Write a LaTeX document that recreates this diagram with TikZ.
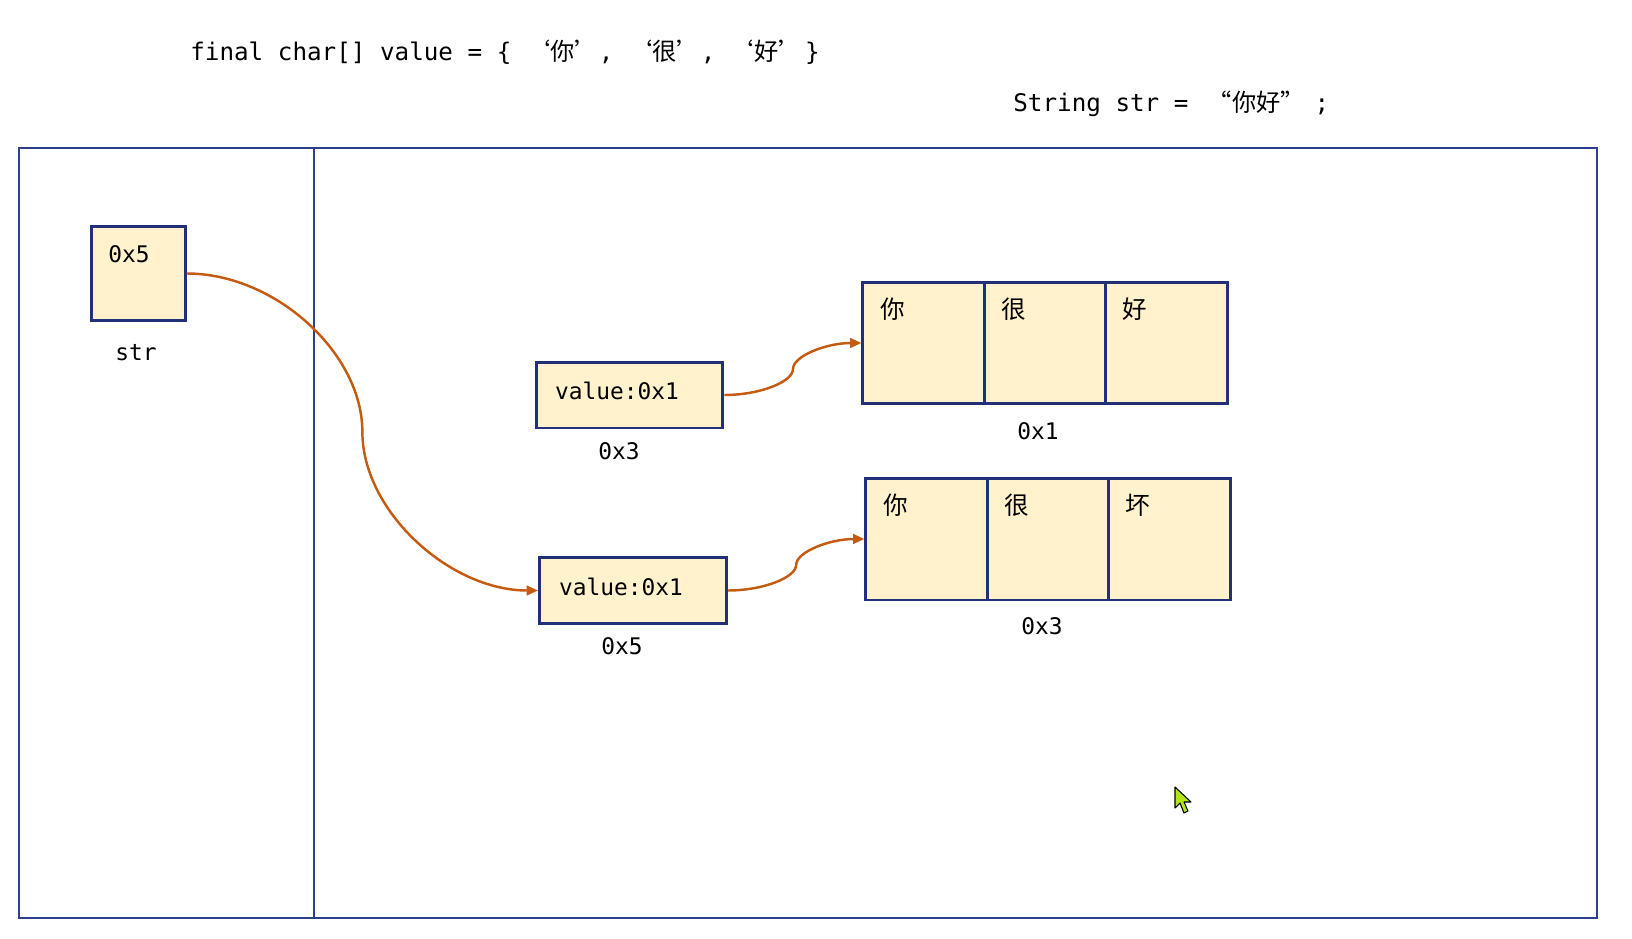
\documentclass[tikz,border=0pt]{standalone}
\usepackage{fontspec}
\setmonofont{DejaVu Sans Mono}
\newfontfamily\cjk{Noto Sans CJK SC}
\usetikzlibrary{arrows.meta,calc}
\definecolor{boxfill}{HTML}{FFF2CC}
\definecolor{boxline}{HTML}{22307A}
\definecolor{frameline}{HTML}{2B3F8A}
\definecolor{ptrline}{HTML}{C55A11}
\tikzset{
  cell/.style={draw=boxline, line width=1.7pt, fill=boxfill, inner sep=0pt},
  txt/.style={font=\ttfamily\fontsize{13}{15}\selectfont, inner sep=0pt},
  code/.style={font=\ttfamily\fontsize{13.8}{16}\selectfont, inner sep=0pt, anchor=west},
  hz/.style={font=\cjk\fontsize{14}{16}\selectfont, inner sep=0pt},
  ptr/.style={draw=ptrline, line width=1.4pt, -{Triangle[length=6.5pt,width=5.5pt]}}
}
\begin{document}
\begin{tikzpicture}[x=0.02cm, y=-0.02cm]
\useasboundingbox (0,0) rectangle (1632,939);
% Quelltext oben
\node[code] (code1) at (190,52) {final char[] value = \{ {\cjk ‘你’}, {\cjk ‘很’}, {\cjk ‘好’}\hspace{0.1em}\}};
\node[code] (code2) at (1013,104) {String str = \hspace{0.2em}{\cjk “你好”}\hspace{0.4em};};
% Stack und Heap
\draw[frameline, line width=1.2pt] (19,148) rectangle (1597,918);
\draw[frameline, line width=1.2pt] (314,148) -- (314,918);
% Variable str
\node[cell, minimum width=1.87cm, minimum height=1.89cm] (strbox) at (138.5,273.5) {};
\node[txt] (strval) at (129,254) {0x5};
\node[txt] (strname) at (136,353) {str};
% String-Objekte
\node[cell, minimum width=3.74cm, minimum height=1.32cm] (obj1) at (629.5,395) {};
\node[txt] (obj1val) at (617,391) {value:0x1};
\node[txt] (obj1adr) at (619,451) {0x3};
\node[cell, minimum width=3.74cm, minimum height=1.32cm] (obj2) at (633,590.5) {};
\node[txt] (obj2val) at (621,587) {value:0x1};
\node[txt] (obj2adr) at (622,646) {0x5};
% char-Arrays
\node[cell, minimum width=2.43cm, minimum height=2.44cm] (a1) at (923.7,343) {};
\node[cell, minimum width=2.43cm, minimum height=2.44cm] (a2) at (1045,343) {};
\node[cell, minimum width=2.43cm, minimum height=2.44cm] (a3) at (1166.3,343) {};
\node[hz] (a1c) at (893,309) {你};
\node[hz] (a2c) at (1014,309) {很};
\node[hz] (a3c) at (1134.5,309) {好};
\node[txt] (a1adr) at (1038,431) {0x1};
\node[cell, minimum width=2.43cm, minimum height=2.44cm] (b1) at (926.7,539) {};
\node[cell, minimum width=2.43cm, minimum height=2.44cm] (b2) at (1048,539) {};
\node[cell, minimum width=2.43cm, minimum height=2.44cm] (b3) at (1169.3,539) {};
\node[hz] (b1c) at (896,505) {你};
\node[hz] (b2c) at (1017,505) {很};
\node[hz] (b3c) at (1138,505) {坏};
\node[txt] (b1adr) at (1042,626) {0x3};
% Zeiger (zwei Bezierstuecke, Knick in der Mitte)
\coordinate (m0) at ($(strbox.east)!0.5!(obj2.west)$);
\coordinate (m1) at ($(obj1.east)!0.5!(a1.west)$);
\coordinate (m2) at ($(obj2.east)!0.5!(b1.west)$);
\draw[ptr] (strbox.east) .. controls +(88.5,0) and +(0,-79) .. (m0)
  .. controls +(0,79) and +(-88.5,0) .. (obj2.west);
\draw[ptr] (obj1.east) .. controls +(35,0) and +(0,13) .. (m1)
  .. controls +(0,-13) and +(-35,0) .. (a1.west);
\draw[ptr] (obj2.east) .. controls +(34.6,0) and +(0,12.9) .. (m2)
  .. controls +(0,-12.9) and +(-34.6,0) .. (b1.west);
% Mauszeiger
\draw[fill={rgb,255:red,180;green,230;blue,20}, line width=0.6pt, line join=round]
  (1175,787) -- (1175,808) -- (1180,803) -- (1184,813) -- (1188,811) -- (1184,802) -- (1191,802) -- cycle;
\end{tikzpicture}
\end{document}
